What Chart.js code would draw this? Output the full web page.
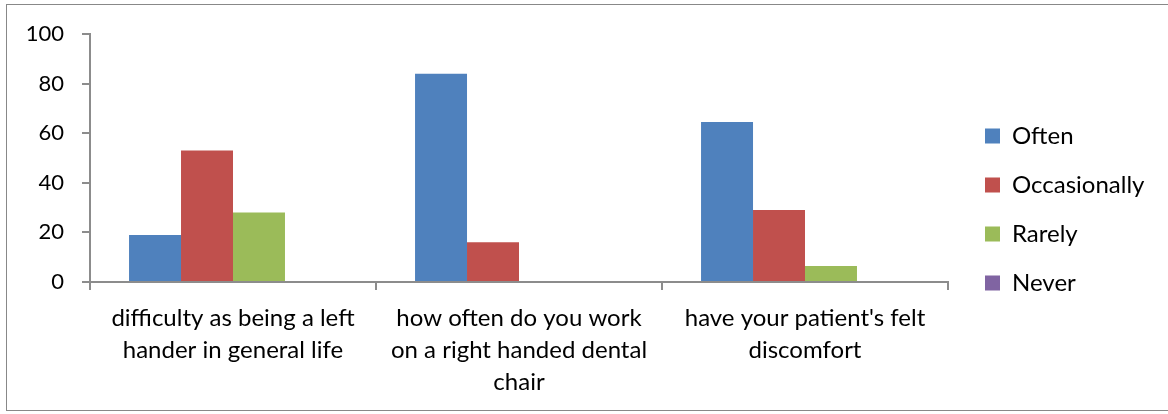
<!DOCTYPE html>
<html>
<head>
<meta charset="utf-8">
<script src="https://cdn.jsdelivr.net/npm/chart.js@4.4.1/dist/chart.umd.min.js"></script>
<style>
  html, body { margin: 0; padding: 0; background: #fff; overflow: hidden; }
  #wrap { position: relative; width: 1168px; height: 414px; }
  #frame { position: absolute; left: 6px; top: 4px; width: 1200px; height: 407px; border: 1px solid #888; box-sizing: border-box; }
  canvas { position: absolute; left: 0; top: 0; }
</style>
</head>
<body>
<div id="wrap">
  <div id="frame"></div>
  <canvas id="c" width="1168" height="414"></canvas>
</div>
<script>
const categories = [
  ["difficulty as being a left", "hander in general life"],
  ["how often do you work", "on a right handed dental", "chair"],
  ["have your patient's felt", "discomfort"]
];
const seriesNames = ["Often", "Occasionally", "Rarely", "Never"];
const often = [19, 84, 64.5];
const occasionally = [53, 16, 29];
const rarely = [28, 0, 6.5];
const never = [0, 0, 0];
const yTicks = [0, 20, 40, 60, 80, 100];
const colors = ["#4F81BD", "#C0504D", "#9BBB59", "#8064A2"];

const FONT = "Lato, 'Open Sans', sans-serif";
const AXIS = "#8c8c8c";

const legendPlugin = {
  id: 'legendLayout',
  beforeLayout(chart) {
    const lg = chart.legend;
    if (lg && !lg._patched) {
      const f = lg.fit;
      lg.fit = function () { f.call(this); this.width = 220; };
      lg._patched = true;
    }
  },
  afterLayout(chart) {
    const lg = chart.legend;
    if (lg) {
      const dx = 12, dy = -14.5;
      lg.left += dx; lg.right += dx;
      lg.top += dy; lg.bottom += dy;
    }
  }
};

new Chart(document.getElementById('c'), {
  type: 'bar',
  data: {
    labels: categories,
    datasets: [
      { label: seriesNames[0], data: often, backgroundColor: colors[0] },
      { label: seriesNames[1], data: occasionally, backgroundColor: colors[1] },
      { label: seriesNames[2], data: rarely, backgroundColor: colors[2] },
      { label: seriesNames[3], data: never, backgroundColor: colors[3] }
    ]
  },
  options: {
    responsive: false,
    animation: false,
    devicePixelRatio: 1,
    categoryPercentage: 0.727,
    barPercentage: 1.0,
    layout: { padding: { top: 34, left: 0, right: 0, bottom: 0 } },
    plugins: {
      tooltip: { enabled: false },
      legend: {
        position: 'right',
        labels: {
          boxWidth: 15, boxHeight: 15, padding: 25,
          color: '#000',
          font: { family: FONT, size: 24 }
        }
      }
    },
    scales: {
      x: {
        offset: true,
        grid: { display: true, drawOnChartArea: false, drawTicks: true, tickLength: 8, color: AXIS, lineWidth: 2, offset: true },
        border: { display: true, color: AXIS, width: 2 },
        ticks: { color: '#000', padding: 12, maxRotation: 0, autoSkip: false, font: { family: FONT, size: 24, lineHeight: 1.333 } },
        afterFit(scale) { scale.height = 132; }
      },
      y: {
        min: 0, max: 100,
        afterBuildTicks(scale) { scale.ticks = yTicks.map(v => ({ value: v })); },
        grid: { display: true, drawOnChartArea: false, drawTicks: true, tickLength: 8, color: AXIS, lineWidth: 2 },
        border: { display: true, color: AXIS, width: 2 },
        ticks: { color: '#000', padding: 18, font: { family: FONT, size: 22 } },
        afterFit(scale) { scale.width = 90; }
      }
    }
  },
  plugins: [legendPlugin]
});
</script>
</body>
</html>
